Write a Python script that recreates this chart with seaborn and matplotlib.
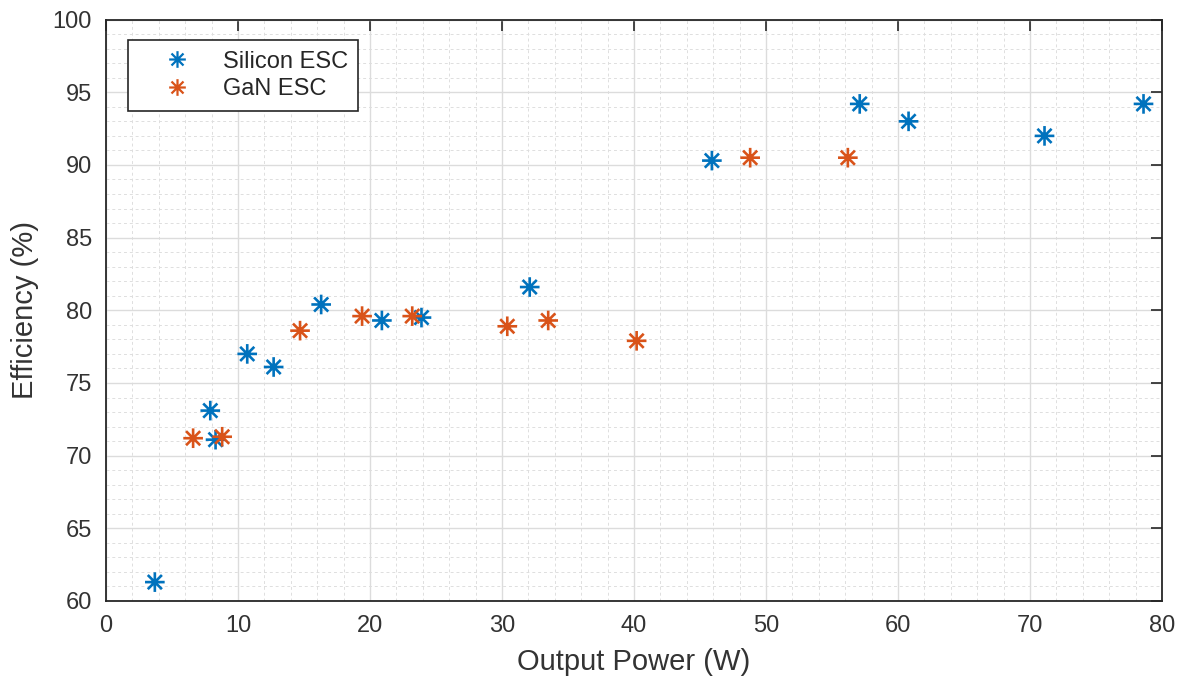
import numpy as np
import pandas as pd
import matplotlib
matplotlib.use("Agg")
import matplotlib.pyplot as plt
from matplotlib.path import Path
from matplotlib.ticker import MultipleLocator
import seaborn as sns

# Measured efficiency vs. output power for two ESC designs
si_power = [3.7, 7.9, 8.3, 10.7, 12.7, 16.3, 20.9, 23.9, 32.1, 45.9, 57.1, 60.8, 71.1, 78.6]
si_eff = [61.3, 73.1, 71.1, 77.0, 76.1, 80.4, 79.3, 79.5, 81.6, 90.3, 94.2, 93.0, 92.0, 94.2]
gan_power = [6.6, 8.8, 14.7, 19.4, 23.2, 30.4, 33.5, 40.2, 48.8, 56.2]
gan_eff = [71.2, 71.3, 78.6, 79.6, 79.6, 78.9, 79.3, 77.9, 90.5, 90.5]
series_names = ["Silicon ESC", "GaN ESC"]
series_colors = ["#0072BD", "#D95319"]

df = pd.DataFrame({
    "power": si_power + gan_power,
    "eff": si_eff + gan_eff,
    "esc": [series_names[0]] * len(si_power) + [series_names[1]] * len(gan_power),
})

sns.set_theme(style="white")
plt.rcParams["font.family"] = ["Liberation Sans", "DejaVu Sans"]

# Asterisk marker: a plus with shorter diagonal arms (open strokes, no fill area)
d = 0.72
verts = [(-1, 0), (1, 0), (0, -1), (0, 1),
         (-d, -d), (d, d), (-d, d), (d, -d)]
codes = [Path.MOVETO, Path.LINETO] * 4
asterisk_path = Path(verts, codes)

fig = plt.figure(figsize=(11.81, 6.89), dpi=100)
ax = fig.add_axes([106 / 1181, 88 / 689, 1056 / 1181, 581.4 / 689])

sns.scatterplot(data=df, x="power", y="eff", hue="esc", hue_order=series_names,
                palette=series_colors, marker=asterisk_path, s=200, linewidth=1.9,
                edgecolor="face", ax=ax, legend=False, zorder=3)

ax.set_xlim(0, 80)
ax.set_ylim(60, 100)
ax.xaxis.set_major_locator(MultipleLocator(10))
ax.xaxis.set_minor_locator(MultipleLocator(2))
ax.yaxis.set_major_locator(MultipleLocator(5))
ax.yaxis.set_minor_locator(MultipleLocator(1))

ax.grid(which="major", color="#dcdcdc", linewidth=1.0, linestyle="-")
ax.grid(which="minor", color="#dedede", linewidth=0.7, linestyle=(0, (3, 3)))
ax.set_axisbelow(True)

ax.tick_params(which="major", direction="in", length=8, width=1.2, color="#262626",
               top=True, right=True, labelsize=17, labelcolor="#333333", pad=10)
ax.tick_params(which="minor", length=0)
for sp in ax.spines.values():
    sp.set_color("#262626")
    sp.set_linewidth(1.3)

ax.set_xlabel("Output Power (W)", fontsize=21, color="#333333", labelpad=8)
ax.set_ylabel("Efficiency (%)", fontsize=21, color="#333333", labelpad=10)

handles = [plt.Line2D([], [], linestyle="none", marker=asterisk_path, markersize=12,
                      markeredgewidth=1.6, color=c) for c in series_colors]
leg = ax.legend(handles, series_names, loc="upper left",
                bbox_to_anchor=(0.021, 0.965), borderaxespad=0, fontsize=17,
                frameon=True, fancybox=False, framealpha=1, edgecolor="#262626",
                handlelength=3.25, handletextpad=0.3, borderpad=0.45,
                labelspacing=0.25)
leg.get_frame().set_linewidth(1.2)
for t in leg.get_texts():
    t.set_color("#262626")

fig.savefig("out.png", dpi=100)
